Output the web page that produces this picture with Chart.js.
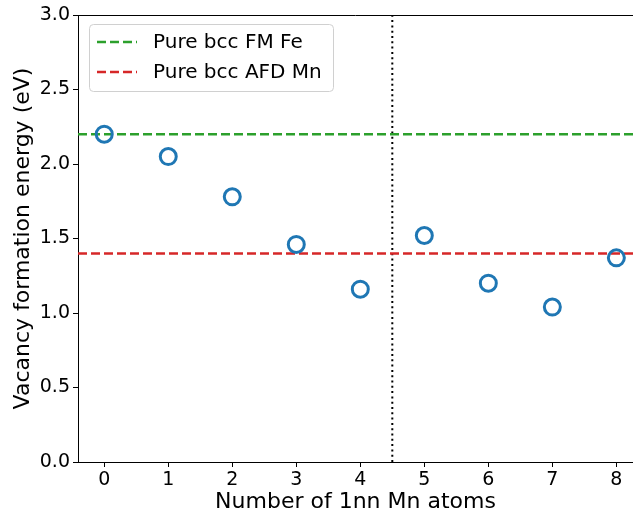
<!DOCTYPE html>
<html>
<head>
<meta charset="utf-8">
<script src="https://cdn.jsdelivr.net/npm/chart.js@4"></script>
<style>
  html, body { margin: 0; padding: 0; background: #fff; overflow: hidden; }
</style>
</head>
<body>
<canvas id="myChart" width="633" height="515"></canvas>
<script>
// Number of 1nn Mn atoms and the vacancy formation energy (eV)
var mnAtoms = [0, 1, 2, 3, 4, 5, 6, 7, 8];
var vacEnergy = [2.20, 2.05, 1.78, 1.46, 1.16, 1.52, 1.20, 1.04, 1.37];

// reference lines
var refNames = ['Pure bcc FM Fe', 'Pure bcc AFD Mn'];
var refEnergy = [2.20, 1.40];
var splitAt = 4.5;

var xTicks = [0, 1, 2, 3, 4, 5, 6, 7, 8];
var yTicks = [0, 0.5, 1, 1.5, 2, 2.5, 3];

var font = 'DejaVu Sans';
// the original figure is cut off on the right, so the axis ends short of 8.4
var xMin = -0.41, xMax = 8.26;

var legendBox = {
    id: 'legendBox',
    afterDatasetsDraw: function (chart) {
        var c = chart.ctx;
        var area = chart.chartArea;
        // top spine
        c.save();
        c.strokeStyle = '#000';
        c.lineWidth = 1;
        c.beginPath();
        c.moveTo(area.left, area.top + 0.5);
        c.lineTo(area.right, area.top + 0.5);
        c.stroke();

        var x0 = 89.5, y0 = 24.5, w = 244, h = 67, r = 4;
        c.fillStyle = 'rgba(255,255,255,0.8)';
        c.strokeStyle = '#d0d0d0';
        c.beginPath();
        c.roundRect(x0, y0, w, h, r);
        c.fill();
        c.stroke();

        var colors = ['#2ca02c', '#d62728'];
        c.font = '20px ' + font;
        c.textBaseline = 'middle';
        for (var i = 0; i < refNames.length; i++) {
            var yy = 42 + i * 30;
            c.strokeStyle = colors[i];
            c.lineWidth = 2.5;
            c.setLineDash([9, 4]);
            c.beginPath();
            c.moveTo(97, yy);
            c.lineTo(137, yy);
            c.stroke();
            c.setLineDash([]);
            c.fillStyle = '#000';
            c.fillText(refNames[i], 153, yy + 1);
        }
        c.restore();
    }
};

window.onload = function () {
    var ctx = document.getElementById('myChart').getContext('2d');
    var myChart = new Chart(ctx, {
        type: 'scatter',
        data: {
            datasets: [{
                label: 'energy',
                data: mnAtoms.map(function (n, i) { return { x: n, y: vacEnergy[i] }; }),
                showLine: false,
                pointRadius: 8,
                pointHoverRadius: 8,
                pointBorderWidth: 3,
                borderColor: '#1f77b4',
                backgroundColor: 'rgba(0,0,0,0)',
                order: 1
            },
            {
                label: refNames[0],
                data: [{ x: xMin, y: refEnergy[0] }, { x: xMax, y: refEnergy[0] }],
                showLine: true,
                pointRadius: 0,
                borderColor: '#2ca02c',
                borderWidth: 2.5,
                borderDash: [9, 4],
                order: 2
            },
            {
                label: refNames[1],
                data: [{ x: xMin, y: refEnergy[1] }, { x: xMax, y: refEnergy[1] }],
                showLine: true,
                pointRadius: 0,
                borderColor: '#d62728',
                borderWidth: 2.5,
                borderDash: [9, 4],
                order: 2
            },
            {
                label: 'split',
                data: [{ x: splitAt, y: 0 }, { x: splitAt, y: 3 }],
                showLine: true,
                pointRadius: 0,
                borderColor: '#000',
                borderWidth: 2,
                borderDash: [2, 3.3],
                order: 3
            }]
        },
        options: {
            responsive: false,
            animation: false,
            // no extra room for the point markers: the plot runs to the right edge
            layout: { autoPadding: false, padding: { top: 15, right: 0, left: 0, bottom: 0 } },
            plugins: {
                legend: { display: false },
                tooltip: { enabled: false }
            },
            scales: {
                x: {
                    type: 'linear',
                    min: xMin,
                    max: xMax,
                    afterBuildTicks: function (axis) {
                        axis.ticks = xTicks.map(function (v) { return { value: v }; });
                    },
                    afterFit: function (axis) {
                        axis.height = 53;
                        axis.paddingLeft = 0;
                        axis.paddingRight = 0;
                    },
                    grid: {
                        drawOnChartArea: false,
                        drawTicks: true,
                        tickLength: 5,
                        color: '#000',
                        tickWidth: 1
                    },
                    border: { color: '#000', width: 1 },
                    ticks: {
                        color: '#000',
                        font: { family: font, size: 19 },
                        padding: 2,
                        maxRotation: 0
                    },
                    title: {
                        display: true,
                        text: 'Number of 1nn Mn atoms',
                        color: '#000',
                        font: { family: font, size: 22 },
                        padding: { top: 0, bottom: 0 }
                    }
                },
                y: {
                    type: 'linear',
                    min: 0,
                    max: 3,
                    afterBuildTicks: function (axis) {
                        axis.ticks = yTicks.map(function (v) { return { value: v }; });
                    },
                    afterFit: function (axis) { axis.width = 78; },
                    grid: {
                        drawOnChartArea: false,
                        drawTicks: true,
                        tickLength: 5,
                        color: '#000',
                        tickWidth: 1
                    },
                    border: { color: '#000', width: 1 },
                    ticks: {
                        color: '#000',
                        font: { family: font, size: 19 },
                        padding: 3,
                        callback: function (v) { return v.toFixed(1); }
                    },
                    title: {
                        display: true,
                        text: 'Vacancy formation energy (eV)',
                        color: '#000',
                        font: { family: font, size: 22 },
                        padding: { top: 10, bottom: 0 }
                    }
                }
            }
        },
        plugins: [legendBox]
    });
};
</script>
</body>
</html>
